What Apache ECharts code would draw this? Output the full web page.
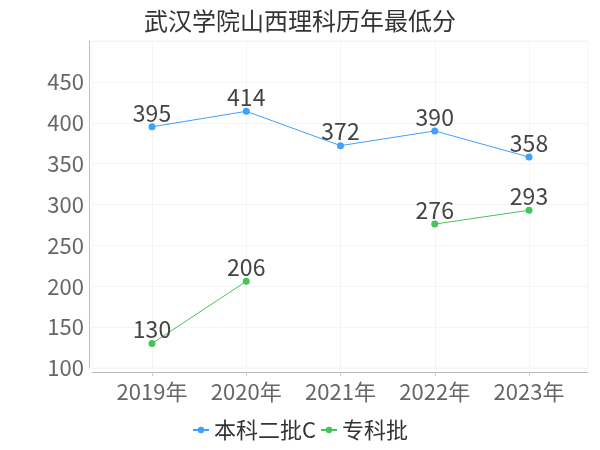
<!DOCTYPE html>
<html>
<head>
<meta charset="utf-8">
<script src="https://cdn.jsdelivr.net/npm/echarts@6/dist/echarts.min.js"></script>
<style>html,body{margin:0;padding:0;background:#fff}#c{width:600px;height:450px}</style>
</head>
<body>
<div id="c"></div>
<script>
const title = '武汉学院山西理科历年最低分';
const years = ['2019年', '2020年', '2021年', '2022年', '2023年'];
const seriesNames = ['本科二批C', '专科批'];
const benke = [395, 414, 372, 390, 358];
const zhuanke = [130, 206, null, 276, 293];
const yMin = 100, yMax = 500, yStep = 50;

const FONT = '"Noto Sans CJK SC", "Noto Sans", sans-serif';
const chart = echarts.init(document.getElementById('c'));
chart.setOption({
  animation: false,
  textStyle: { fontFamily: FONT },
  title: {
    text: title, left: 'center', top: 4,
    textStyle: { fontSize: 24, fontWeight: 'normal', color: '#333', fontFamily: FONT }
  },
  legend: {
    bottom: 4, left: 'center', itemWidth: 16, itemHeight: 8, itemGap: 4,
    textStyle: { fontSize: 22, color: '#333', fontFamily: FONT },
    data: seriesNames
  },
  grid: [
    { left: 92, right: 12, top: 41, bottom: 82, show: true, borderColor: '#f4f4f4', borderWidth: 1 },
    { left: 152, right: 71, top: 41, bottom: 82 }
  ],
  xAxis: [
    { gridIndex: 0, type: 'category', data: [''], offset: 4,
      axisLine: { show: true, lineStyle: { color: '#bbb' } },
      axisTick: { show: false }, axisLabel: { show: false }, splitLine: { show: false } },
    { gridIndex: 1, type: 'category', data: years, boundaryGap: false, offset: 4,
      axisLine: { show: false },
      axisTick: { show: true, length: 4, lineStyle: { color: '#ccc' } },
      axisLabel: { fontSize: 22, color: '#666', margin: 9, fontFamily: FONT },
      splitLine: { show: true, lineStyle: { color: '#f4f4f4' } } }
  ],
  yAxis: [
    { gridIndex: 0, type: 'value', min: yMin, max: yMax, interval: yStep, offset: 3,
      axisLine: { show: true, lineStyle: { color: '#bbb' } },
      axisTick: { show: false },
      axisLabel: { fontSize: 22, color: '#666', margin: 5, fontFamily: FONT, showMaxLabel: false },
      splitLine: { show: true, lineStyle: { color: '#f4f4f4' } } },
    { gridIndex: 1, type: 'value', min: yMin, max: yMax, interval: yStep, show: false,
      splitLine: { show: false } }
  ],
  series: [
    { name: seriesNames[0], type: 'line', xAxisIndex: 1, yAxisIndex: 1, data: benke,
      color: '#3fa0ff', symbol: 'circle', symbolSize: 7,
      lineStyle: { width: 1 },
      label: { show: true, position: 'top', fontSize: 23, color: '#444', distance: -1, fontFamily: FONT } },
    { name: seriesNames[1], type: 'line', xAxisIndex: 1, yAxisIndex: 1, data: zhuanke,
      color: '#45c45a', symbol: 'circle', symbolSize: 7, connectNulls: false,
      lineStyle: { width: 1 },
      label: { show: true, position: 'top', fontSize: 23, color: '#444', distance: -1, fontFamily: FONT } }
  ]
});
</script>
</body>
</html>
